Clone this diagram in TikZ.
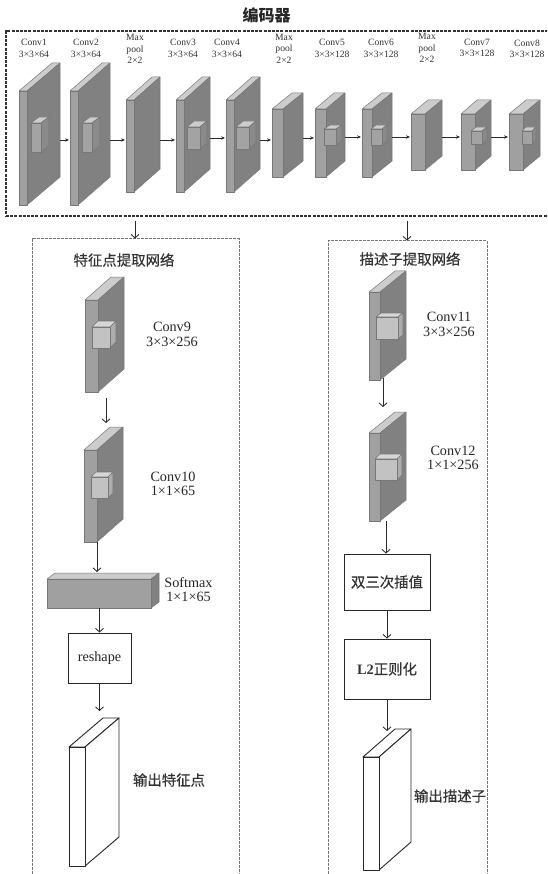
\documentclass[tikz,border=0pt]{standalone}
\usepackage{fontspec}
\setmainfont{Liberation Serif}
\newfontfamily\cjk[FakeBold=0.5]{Noto Sans CJK SC}
\newfontfamily\cjktitle{Noto Sans CJK SC}
\usetikzlibrary{arrows.meta,fit}
\definecolor{frontc}{HTML}{A0A0A0}
\definecolor{sidec}{HTML}{818181}
\definecolor{topc}{HTML}{CCCCCC}
\definecolor{edgec}{HTML}{777777}
\definecolor{lineC}{HTML}{2A2A2A}
\tikzset{
  frontface/.style={fill=frontc,draw=edgec,line width=.5pt,line join=round},
  sideface/.style={fill=sidec,draw=edgec,line width=.5pt,line join=round},
  topface/.style={fill=topc,draw=edgec,line width=.5pt,line join=round},
  cubeface/.style={fill=#1,draw=edgec,line width=.6pt,line join=round},
  whiteface/.style={fill=white,draw=black!85,line width=.9pt,line join=round},
  smallarrow/.style={draw=lineC,line width=.6pt,shorten >=1pt,-{Stealth[length=4pt,width=3.4pt]}},
  bigarrow/.style={draw=lineC,line width=.85pt,-{Straight Barb[length=3.6pt,width=8pt,line width=.85pt]}},
  outerbox/.style={draw=black!80,dash pattern=on 3pt off 1.2pt,line width=1.2pt},
  innerbox/.style={draw=black!55,dash pattern=on 2.6pt off 1.4pt,line width=1pt},
  procbox/.style={draw=black!85,line width=.9pt,inner sep=0,fill=white},
  smalllabel/.style={font=\fontsize{9.6}{11.6}\selectfont,align=center,text=black!80,inner sep=0},
  midlabel/.style={font=\fontsize{14.2}{14.6}\selectfont,align=center,text=black!85,inner sep=0},
  cjklabel/.style={font=\cjk\fontsize{14.4}{16}\selectfont,text=black!80,inner sep=0},
  bbox/.style={inner sep=0,outer sep=0,draw=none}
}
% box: name, x1, x2, y1, y2, xb, yb, style front, side, top
\newcommand{\solid}[9]{%
  \path[#9] (#2,#4) -- (#6-#3+#2,#7) -- (#6,#7) -- (#3,#4) -- cycle;
  \path[#8] (#3,#4) -- (#6,#7) -- (#6,#7+#5-#4) -- (#3,#5) -- cycle;
  \path[#1] (#2,#4) rectangle (#3,#5);
}
\newcommand{\slab}[7]{%
  \solid{frontface}{#2}{#3}{#4}{#5}{#6}{#7}{sideface}{topface}
  \node[bbox,fit={(#2,#7) (#6,#5)}] (#1) {};
}
\newcommand{\whiteslab}[7]{%
  \solid{whiteface}{#2}{#3}{#4}{#5}{#6}{#7}{whiteface}{whiteface}
  \node[bbox,fit={(#2,#7) (#6,#5)}] (#1) {};
}
\newcommand{\darkcube}[6]{%
  \solid{cubeface={black!36}}{#1}{#2}{#3}{#4}{#5}{#6}{cubeface={black!46}}{cubeface={black!20}}
}
\newcommand{\lightcube}[6]{%
  \solid{cubeface={black!24}}{#1}{#2}{#3}{#4}{#5}{#6}{cubeface={black!32}}{cubeface={black!16}}
}
\newcommand{\harrow}[3]{\draw[smallarrow] (#1.east |- 0,#3) -- (#2.west |- 0,#3);}
\begin{document}
\begin{tikzpicture}[x=1pt,y=-1pt]
\useasboundingbox (0,0) rectangle (547,874);
\clip (0,0) rectangle (547,874);
\fill[white] (0,0) rectangle (547,874);

\node[font=\cjktitle\bfseries\fontsize{16}{18}\selectfont,text=black!85,inner sep=0] (title) at (266.5,15) {编码器};
\node[outerbox,fit={(6,31) (552,216)},inner sep=0] (encoder) {};
\node[innerbox,fit={(32,239) (239,885)},inner sep=0] (kpbox) {};
\node[innerbox,fit={(328,241) (487,885)},inner sep=0] (descbox) {};

% encoder slabs
\slab{c1}{19}{27}{91}{205}{60}{63}
\slab{c2}{70}{78}{91}{205}{110}{63}
\slab{p1}{126}{134}{100}{192}{160}{77}
\slab{c3}{176}{184}{100}{192}{210}{77}
\slab{c4}{226}{234}{100}{192}{260}{77}
\slab{p2}{272}{283}{109}{177}{303}{93}
\slab{c5}{315}{326}{109}{177}{345}{93}
\slab{c6}{362}{372}{109}{177}{392}{93}
\slab{p3}{411}{425}{114}{170}{442}{100}
\slab{c7}{461}{475}{114}{170}{491}{100}
\slab{c8}{509}{523}{114}{170}{540}{100}

\darkcube{31}{41}{123}{152}{49}{117}
\darkcube{82}{92}{123}{152}{100}{117}
\darkcube{187}{200}{127}{149}{207}{121}
\darkcube{236}{249}{127}{149}{256}{121}
\darkcube{324}{336}{129}{145}{342}{125}
\darkcube{371}{382}{129}{145}{387}{125}
\darkcube{471}{482}{131}{144}{487}{127}
\darkcube{522}{532}{131}{144}{536}{127}

\harrow{c1}{c2}{140}
\harrow{c2}{p1}{140}
\harrow{p1}{c3}{140}
\harrow{c3}{c4}{138}
\harrow{c4}{p2}{140}
\harrow{p2}{c5}{138}
\harrow{c5}{c6}{137}
\harrow{c6}{p3}{137}
\harrow{p3}{c7}{137}
\harrow{c7}{c8}{137}

% encoder labels
\node[smalllabel] (lc1) at (34,48.5) {Conv1\\3×3×64};
\node[smalllabel] (lc2) at (86,48.5) {Conv2\\3×3×64};
\node[smalllabel] (lp1) at (135,49) {Max\\pool\\2×2};
\node[smalllabel] (lc3) at (183,48.5) {Conv3\\3×3×64};
\node[smalllabel] (lc4) at (227,48.5) {Conv4\\3×3×64};
\node[smalllabel] (lp2) at (284,48.5) {Max\\pool\\2×2};
\node[smalllabel] (lc5) at (332,48.5) {Conv5\\3×3×128};
\node[smalllabel] (lc6) at (381,48.5) {Conv6\\3×3×128};
\node[smalllabel] (lp3) at (427,48) {Max\\pool\\2×2};
\node[smalllabel] (lc7) at (477,48) {Conv7\\3×3×128};
\node[smalllabel] (lc8) at (527,49) {Conv8\\3×3×128};

% down arrows from encoder
\draw[bigarrow] (encoder.south -| 135,0) ++(0,4) -- (kpbox.north -| 135,0);
\draw[bigarrow] (encoder.south -| 407,0) ++(0,4) -- (descbox.north -| 407,0);

% keypoint branch
\node[cjklabel] (kptitle) at (124,260) {特征点提取网络};
\slab{c9}{85}{98}{300}{392}{124}{277}
\lightcube{92}{110}{327}{348}{116}{321}
\node[midlabel] (lc9) at (172,334.5) {Conv9\\3×3×256};
\slab{c10}{84}{97}{450}{542}{123}{427}
\lightcube{91}{108}{477}{498}{113}{472}
\node[midlabel] (lc10) at (173,484) {Conv10\\1×1×65};
\solid{frontface}{47}{151}{579}{608}{159}{573}{sideface}{topface}
\node[bbox,fit={(47,573) (159,608)}] (soft) {};
\node[midlabel] (lsoft) at (188.5,589.5) {Softmax\\1×1×65};
\node[procbox,fit={(68,633) (131,683)}] (resh) {};
\node[midlabel] at (resh.center) {reshape};
\whiteslab{okp}{69}{85}{747}{866}{119}{718}
\node[cjklabel] (lokp) at (169,780) {输出特征点};

\draw[bigarrow] ([yshift=-6pt]c9.south -| 106,0) -- ([yshift=4pt]c10.north -| 106,0);
\draw[bigarrow] (c10.south -| 97,0) -- ([yshift=1pt]soft.north -| 97,0);
\draw[bigarrow] (soft.south -| 99.5,0) -- (resh.north -| 99.5,0);
\draw[bigarrow] (resh.south -| 99.5,0) -- ([yshift=7pt]okp.north -| 99.5,0);

% descriptor branch
\node[cjklabel] (dtitle) at (410,259) {描述子提取网络};
\slab{c11}{369}{380}{292}{380}{406}{271}
\lightcube{376}{398}{317}{339}{403}{313}
\node[midlabel] (lc11) at (449,324.5) {Conv11\\3×3×256};
\slab{c12}{369}{380}{433}{521}{406}{412}
\lightcube{375}{397}{459}{480}{402}{454}
\node[midlabel] (lc12) at (453,458) {Conv12\\1×1×256};
\node[procbox,fit={(344,554) (430,610)}] (bicub) {};
\node[cjklabel] at (bicub.center) {双三次插值};
\node[procbox,fit={(344,639) (430,699)}] (l2) {};
\node[font=\fontsize{14.4}{16}\selectfont,text=black!80,inner sep=0] at (l2.center) {\textbf{L2}{\cjk 正则化}};
\whiteslab{odesc}{363}{379}{757}{870}{411}{729}
\node[cjklabel] (lodesc) at (450,796) {输出描述子};

\draw[bigarrow] ([yshift=2pt]c11.south -| 383,0) -- ([yshift=5pt]c12.north -| 383,0);
\draw[bigarrow] (c12.south -| 386,0) -- (bicub.north -| 386,0);
\draw[bigarrow] (bicub.south -| 387,0) -- (l2.north -| 387,0);
\draw[bigarrow] (l2.south -| 387,0) -- ([yshift=-2pt]odesc.north -| 387,0);
\end{tikzpicture}
\end{document}
